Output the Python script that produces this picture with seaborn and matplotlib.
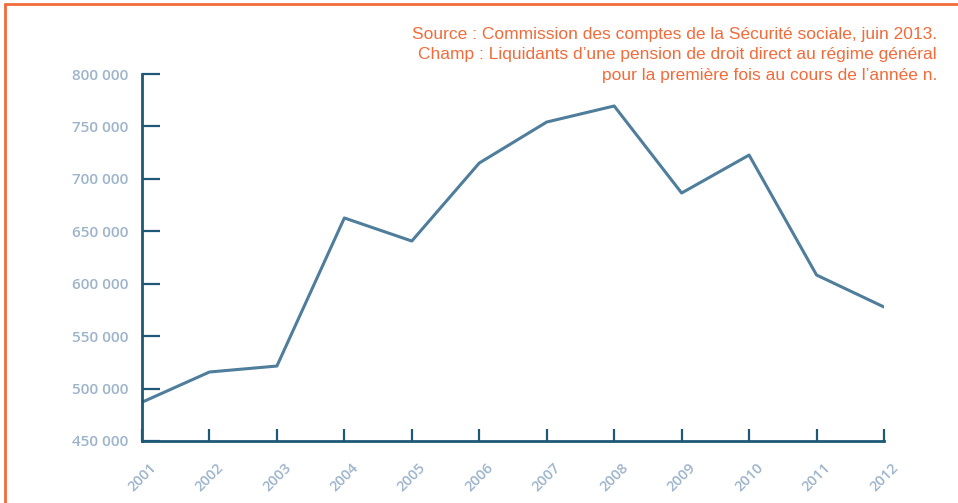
import matplotlib
matplotlib.use("Agg")
import matplotlib.pyplot as plt
import seaborn as sns
import pandas as pd
from matplotlib.lines import Line2D
from matplotlib.ticker import FuncFormatter

# data
years = [2001, 2002, 2003, 2004, 2005, 2006, 2007, 2008, 2009, 2010, 2011, 2012]
liquidants = [487000, 515800, 521500, 662700, 640700, 715100, 754200, 769500,
              686500, 722700, 608300, 577800]
y_ticks = [450000, 500000, 550000, 600000, 650000, 700000, 750000, 800000]
note_lines = [
    "Source : Commission des comptes de la Sécurité sociale, juin 2013.",
    "Champ : Liquidants d\u2019une pension de droit direct au régime général",
    "pour la première fois au cours de l\u2019année n.",
]

df = pd.DataFrame({"annee": years, "liquidants": liquidants})

sns.set_style("white")
plt.rcParams["font.family"] = ["Open Sans", "DejaVu Sans"]

orange = "#f26b3a"
axis_col = "#1d5877"
line_col = "#4f7d9c"
label_col = "#9db4cb"

fig = plt.figure(figsize=(9.58, 5.03), dpi=100)
ax = fig.add_axes([142 / 958, 62 / 503, 742 / 958, 367 / 503])

sns.lineplot(data=df, x="annee", y="liquidants", ax=ax, color=line_col, linewidth=2.2)

ax.set_xlim(years[0], years[-1])
ax.set_ylim(y_ticks[0], y_ticks[-1])
ax.set_xticks(years)
ax.set_yticks(y_ticks)
ax.yaxis.set_major_formatter(FuncFormatter(lambda v, p: f"{int(v):,}".replace(",", " ")))
ax.set_xlabel("")
ax.set_ylabel("")

for side in ["top", "right"]:
    ax.spines[side].set_visible(False)
for side in ["left", "bottom"]:
    ax.spines[side].set_color(axis_col)
    ax.spines[side].set_linewidth(2)

ax.tick_params(axis="y", left=True, direction="in", length=13, width=1.6, color=axis_col,
               labelcolor=label_col, labelsize=11, pad=10)
ax.tick_params(axis="x", bottom=True, direction="in", length=9, width=1.6, color=axis_col,
               labelcolor=label_col, labelsize=10.5, pad=14)
for lab in ax.get_yticklabels():
    lab.set_fontweight("semibold")
for lab in ax.get_xticklabels():
    lab.set_rotation(45)
    lab.set_ha("center")
    lab.set_va("top")
    lab.set_fontweight("semibold")

# orange frame (top and left)
fig.add_artist(Line2D([5 / 958, 5 / 958], [0, 1 - 4 / 503], transform=fig.transFigure,
                      color=orange, linewidth=2))
fig.add_artist(Line2D([5 / 958, 1], [1 - 4 / 503, 1 - 4 / 503], transform=fig.transFigure,
                      color=orange, linewidth=2))

for i, txt in enumerate(note_lines):
    fig.text(937 / 958, 1 - (34 + 21 * i) / 503, txt, ha="right", va="center",
             color=orange, fontsize=12.5, family=["Liberation Sans", "DejaVu Sans"])

fig.savefig("out.png", dpi=100)
